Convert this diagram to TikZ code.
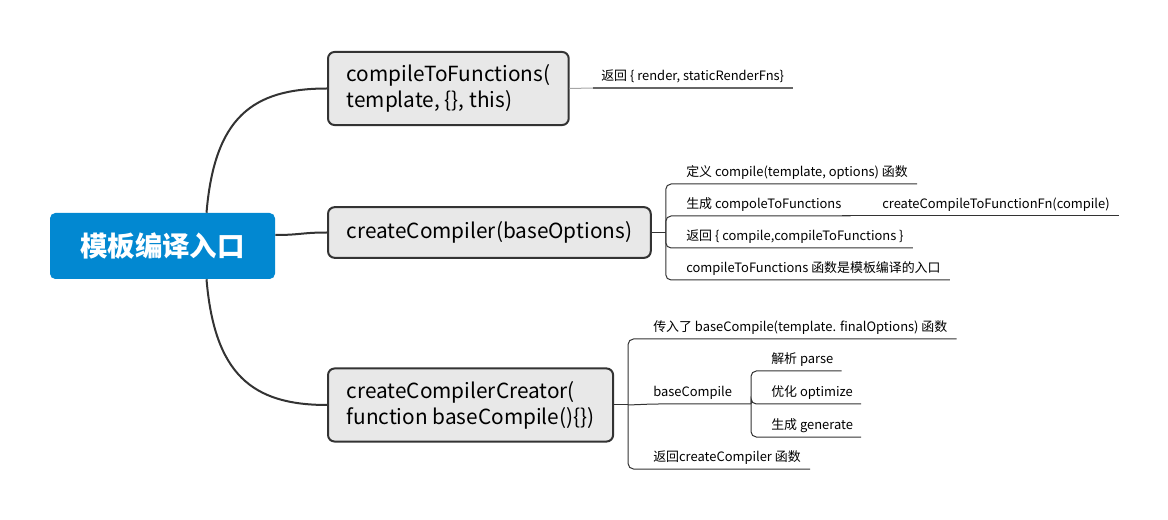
\documentclass[tikz,border=0pt]{standalone}
\usepackage{fontspec}
\setmainfont{Noto Sans CJK SC}
\usetikzlibrary{calc}
\definecolor{rootblue}{HTML}{0288D1}
\definecolor{boxgray}{HTML}{E8E8E8}
\definecolor{linedark}{HTML}{333333}
\definecolor{linemid}{HTML}{666666}
\begin{document}
\begin{tikzpicture}[x=0.75pt, y=-0.75pt,
        root/.style={fill=rootblue, rounded corners=4pt, text=white, minimum width=168.75pt, minimum height=49.5pt, font=\fontsize{20.6}{24}\selectfont\bfseries},
        branch/.style={draw=linedark, line width=1.5pt, fill=boxgray, rounded corners=5pt, anchor=west, align=left, inner xsep=14pt, inner ysep=9.5pt, minimum height=38pt, font=\fontsize{15.6}{19.5}\selectfont},
        leaf/.style={anchor=south west, inner sep=0pt, text depth=5.6pt, font=\fontsize{9.7}{12}\selectfont},
        trunk/.style={draw=linedark, line width=1.5pt},
        twig/.style={draw=linedark, line width=0.75pt, rounded corners=4pt}]
        \useasboundingbox (0, 0) rectangle (1168, 520);
        \node (root) at (162.5, 246) [root] {模板编译入口};
        \node (box1) at (327, 88.5) [branch] {compileToFunctions(\\template, \{\}, this)};
        \node (box2) at (327, 232.5) [branch] {createCompiler(baseOptions)};
        \node (box3) at (327, 405) [branch] {createCompilerCreator(\\function baseCompile()\{\})};
        \draw[trunk] ($(root.north)+(44, 0)$) .. controls +(8, -95) and +(-75, 0) .. (box1.west);
        \draw[trunk] ($(root.east)+(0, -11)$) .. controls +(25, 0) and +(-25, 0) .. (box2.west);
        \draw[trunk] ($(root.south)+(44, 0)$) .. controls +(8, 95) and +(-75, 0) .. (box3.west);
        \node (a1) at (601, 88) [leaf] {返回 \{ render, staticRenderFns\}};
        \draw[twig, gray!70] (box1.east) -- ($(a1.south west)+(-8, 0)$);
        \draw[line width=1.3pt, linemid] ($(a1.south west)+(-8, 0)$) -- ($(a1.south east)+(9, 0)$);
        \coordinate (b2) at ($(box2.east)+(14, 0)$);
        \node (c1) at (686, 184) [leaf] {定义 compile(template, options) 函数};
        \node (c2) at (686, 216) [leaf] {生成 compoleToFunctions};
        \node (c3) at (686, 248) [leaf] {返回 \{ compile,compileToFunctions \}};
        \node (c4) at (686, 280) [leaf] {compileToFunctions 函数是模板编译的入口};
        \node (s2) at (882, 216) [leaf] {createCompileToFunctionFn(compile)};
        \draw[twig] (box2.east) -- (b2);
        \foreach \c in {c1, c2, c3, c4}
            \draw[twig] (b2) |- (\c.south west) -- ($(\c.south east)+(9, 0)$);
        \draw[twig] (c2.south east) -- ($(s2.south east)+(9, 0)$);
        \coordinate (b3) at ($(box3.east)+(14, 0)$);
        \node (d1) at (653, 339) [leaf] {传入了 baseCompile(template. finalOptions) 函数};
        \node (d2) at (653, 404) [leaf] {baseCompile};
        \node (d3) at (653, 469) [leaf] {返回createCompiler 函数};
        \coordinate (b4) at (751, 404);
        \node (e1) at (771, 371) [leaf] {解析 parse};
        \node (e2) at (771, 404) [leaf] {优化 optimize};
        \node (e3) at (771, 437) [leaf] {生成 generate};
        \draw[twig] (box3.east) -- (b3);
        \foreach \d in {d1, d3}
            \draw[twig] (b3) |- (\d.south west) -- ($(\d.south east)+(9, 0)$);
        \draw[twig] (b3) -- (d2.south west) -- (b4);
        \foreach \e in {e1, e2, e3}
            \draw[twig] (b4) |- (\e.south west) -- ($(\e.south east)+(8, 0)$);
    \end{tikzpicture}
\end{document}
